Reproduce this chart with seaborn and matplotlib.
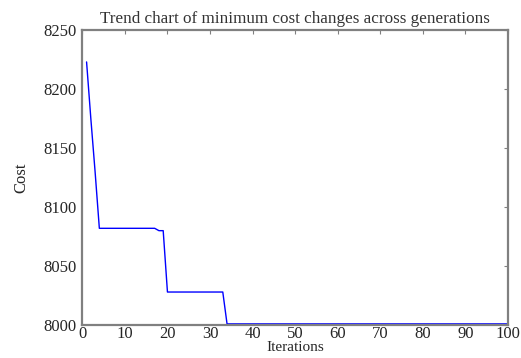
import matplotlib
matplotlib.use("Agg")
import matplotlib.pyplot as plt
import seaborn as sns
import pandas as pd

# iterations where the minimum cost changes, and the cost at each
iterations = [1, 2, 3, 4, 17, 18, 19, 20, 33, 34, 100]
costs = [8223, 8175, 8130, 8082, 8082, 8080, 8080, 8028, 8028, 8001, 8001]

df = pd.DataFrame({"Iterations": iterations, "Cost": costs})

sns.set_style("white")
plt.rcParams["font.family"] = ["Liberation Serif", "DejaVu Serif"]

fig = plt.figure(figsize=(5.21, 3.58), dpi=100)
ax = fig.add_axes([0.158, 0.092, 0.817, 0.824])

sns.lineplot(data=df, x="Iterations", y="Cost", color="#0000ff", linewidth=1, ax=ax)

ax.set_xlim(0, 100)
ax.set_ylim(8000, 8250)
ax.set_xticks(range(0, 101, 10))
ax.set_yticks(range(8000, 8251, 50))

for s in ax.spines.values():
    s.set_color("#808080")
    s.set_linewidth(1.6)
ax.tick_params(direction="in", length=3, width=0.8, color="#808080",
               top=True, right=True, labelsize=12, labelcolor="#262626")
ax.tick_params(axis="x", pad=1)
ax.tick_params(axis="y", pad=4)

ax.set_xlabel("Iterations", fontsize=11, labelpad=-1)
ax.set_ylabel("Cost", fontsize=12, labelpad=10)
ax.set_title("Trend chart of minimum cost changes across generations",
             fontsize=12.3, pad=5, color="#333333")

fig.savefig("out.png", dpi=100)
